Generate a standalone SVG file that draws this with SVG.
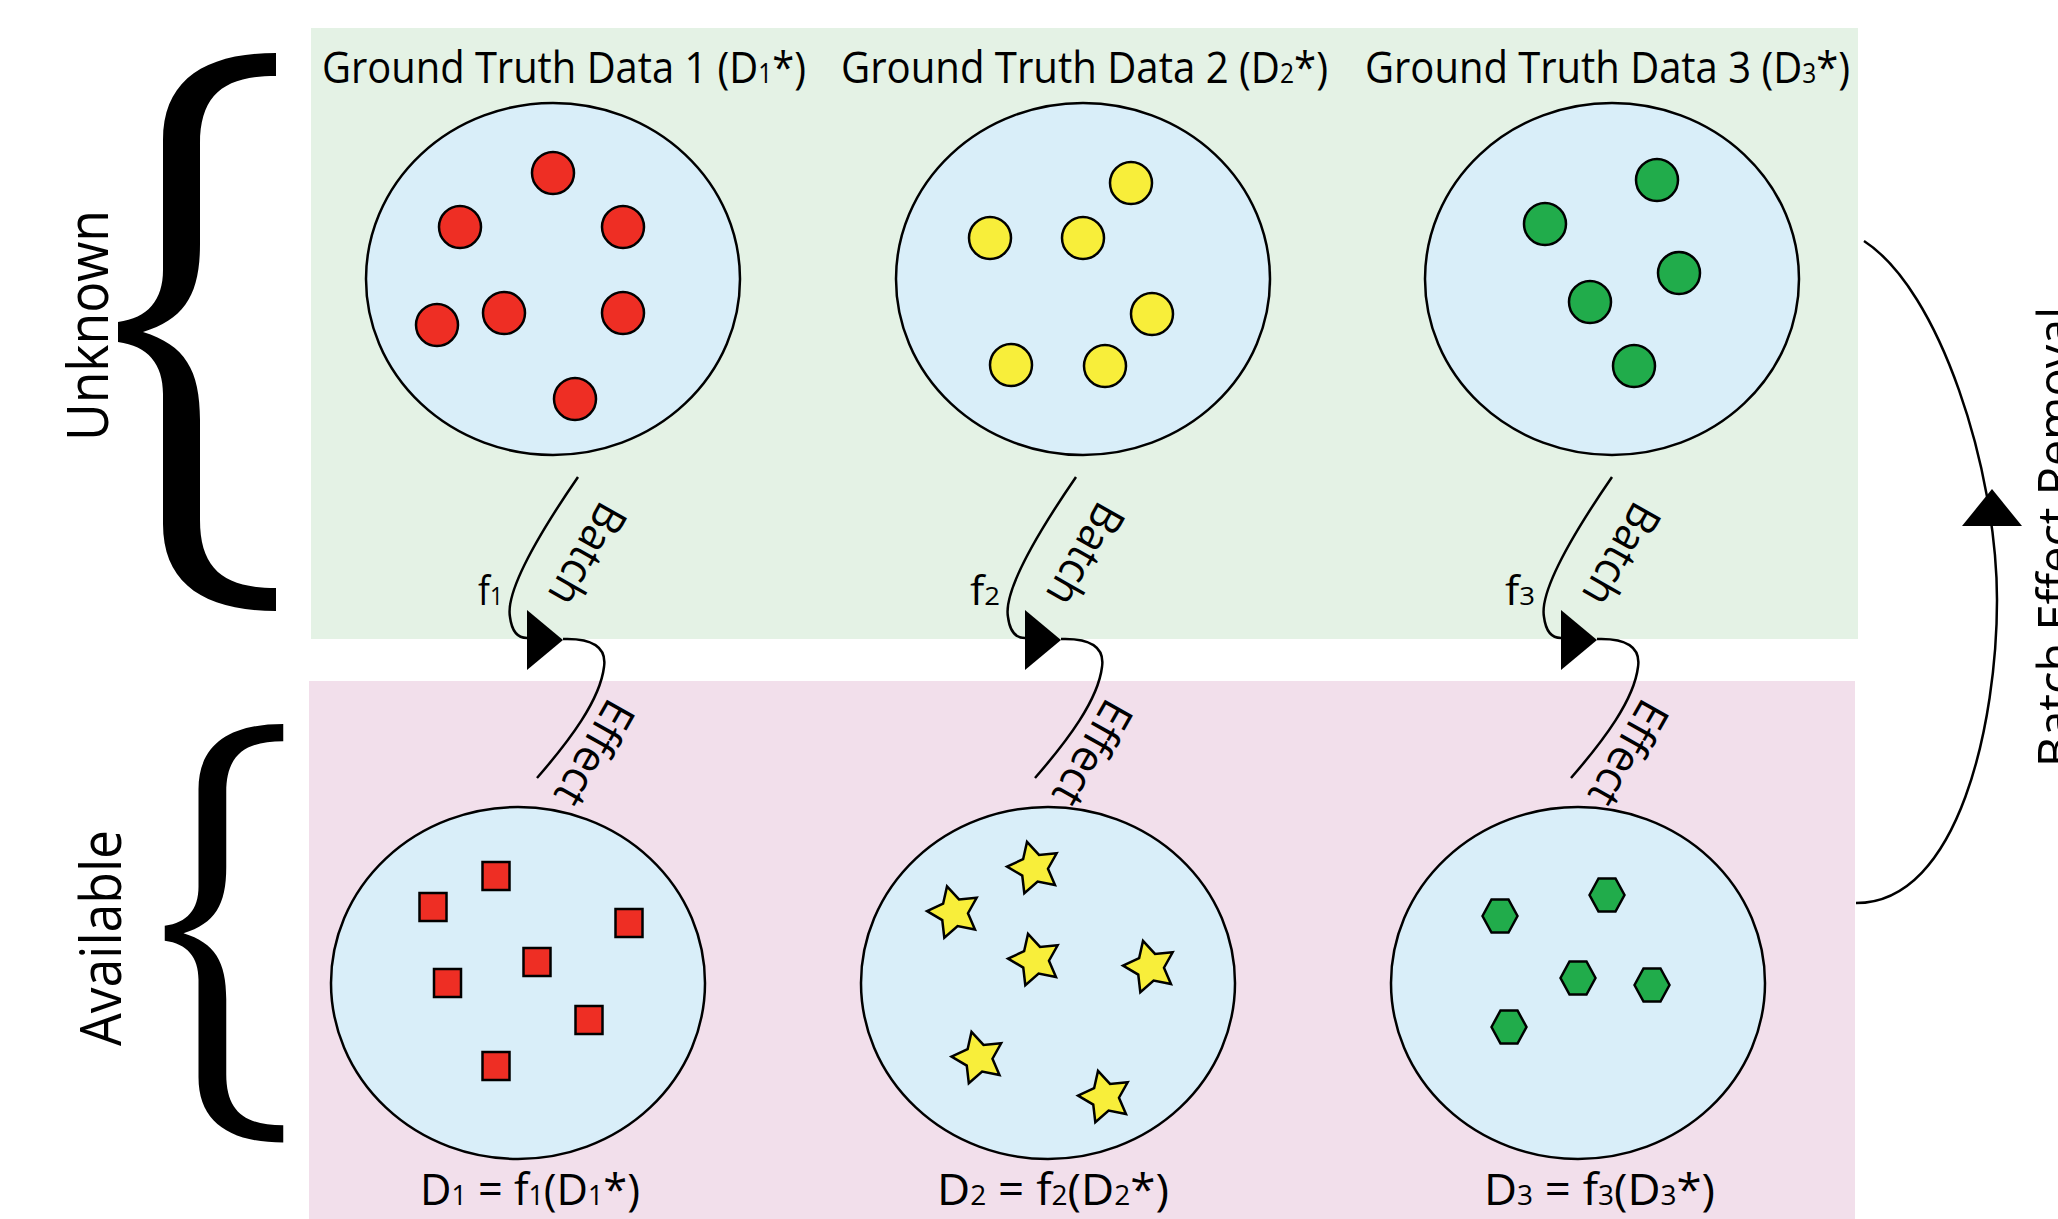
<svg xmlns="http://www.w3.org/2000/svg" width="2058" height="1219" viewBox="0 0 2058 1219">
<style>
.t{font-family:"Open Sans","Liberation Sans",sans-serif;fill:#000}
.ell{fill:#d9eef9;stroke:#000;stroke-width:2.5}
.red{fill:#ee2e24;stroke:#000;stroke-width:2.5}
.yel{fill:#f8ee3a;stroke:#000;stroke-width:2.5;stroke-linejoin:miter}
.grn{fill:#21ac4b;stroke:#000;stroke-width:2.5}
.ln{fill:none;stroke:#000;stroke-width:2.5}
</style>
<defs>
<path id="brace" d="M276,53 C205,53 163,80 163,140 L163,270 C163,300 148,318 118,322 L118,342 C148,346 163,364 163,394 L163,524 C163,584 205,611 276,611 L276,588 C225,588 200,570 200,520 L200,420 C200,370 185,345 143,332 C185,319 200,294 200,244 L200,144 C200,94 225,76 276,76 Z"/>
<polygon id="star" points="-6.99,-26.08 5.02,-13.07 22.64,-14.7 13.98,0.73 20.98,16.99 3.62,13.52 -9.68,25.21 -11.74,7.62 -26.96,-1.41 -10.88,-8.81"/>
<polygon id="hex" points="-17.5,0 -8.5,-16.5 8.5,-16.5 17.5,0 8.5,16.5 -8.5,16.5"/>
<rect id="sq" x="-13.5" y="-14" width="27" height="28"/>
</defs>

<g id="backgrounds">
<rect x="311" y="28" width="1547" height="611" fill="#e4f2e5"/>
<rect x="309" y="681" width="1546" height="538" fill="#f2dfeb"/>
</g>

<g id="brace-unknown">
<use href="#brace"/>
<text class="t" font-size="56" transform="translate(108,441) rotate(-90)" textLength="231" lengthAdjust="spacingAndGlyphs">Unknown</text>
</g>
<g id="brace-available">
<use href="#brace" transform="translate(76.25,684.25) scale(0.75)"/>
<text class="t" font-size="56" transform="translate(121,1046) rotate(-90)" textLength="216" lengthAdjust="spacingAndGlyphs">Available</text>
</g>

<g id="gt1">
<text class="t" x="322" y="83" font-size="44" textLength="484" lengthAdjust="spacingAndGlyphs">Ground Truth Data 1 (D<tspan font-size="27">1</tspan>*)</text>
<ellipse class="ell" cx="553" cy="279" rx="187" ry="176"/>
<circle class="red" cx="553" cy="173" r="21"/>
<circle class="red" cx="460" cy="227" r="21"/>
<circle class="red" cx="623" cy="227" r="21"/>
<circle class="red" cx="437" cy="325" r="21"/>
<circle class="red" cx="504" cy="313" r="21"/>
<circle class="red" cx="623" cy="313" r="21"/>
<circle class="red" cx="575" cy="399" r="21"/>
</g>

<g id="gt2">
<text class="t" x="841" y="83" font-size="44" textLength="487" lengthAdjust="spacingAndGlyphs">Ground Truth Data 2 (D<tspan font-size="27">2</tspan>*)</text>
<ellipse class="ell" cx="1083" cy="279" rx="187" ry="176"/>
<circle class="yel" cx="1131" cy="183" r="21"/>
<circle class="yel" cx="1083" cy="238" r="21"/>
<circle class="yel" cx="990" cy="238" r="21"/>
<circle class="yel" cx="1152" cy="314" r="21"/>
<circle class="yel" cx="1011" cy="365" r="21"/>
<circle class="yel" cx="1105" cy="366" r="21"/>
</g>

<g id="gt3">
<text class="t" x="1365" y="83" font-size="44" textLength="485" lengthAdjust="spacingAndGlyphs">Ground Truth Data 3 (D<tspan font-size="27">3</tspan>*)</text>
<ellipse class="ell" cx="1612" cy="279" rx="187" ry="176"/>
<circle class="grn" cx="1657" cy="180" r="21"/>
<circle class="grn" cx="1545" cy="224" r="21"/>
<circle class="grn" cx="1679" cy="273" r="21"/>
<circle class="grn" cx="1590" cy="302" r="21"/>
<circle class="grn" cx="1634" cy="366" r="21"/>
</g>

<g id="obs1">
<ellipse class="ell" cx="518" cy="983" rx="187" ry="176"/>
<use href="#sq" class="red" x="496" y="876"/>
<use href="#sq" class="red" x="433" y="907"/>
<use href="#sq" class="red" x="629" y="923"/>
<use href="#sq" class="red" x="537" y="962"/>
<use href="#sq" class="red" x="447.5" y="983"/>
<use href="#sq" class="red" x="589" y="1020"/>
<use href="#sq" class="red" x="496" y="1066"/>
<text class="t" x="420" y="1205" font-size="44" textLength="220" lengthAdjust="spacingAndGlyphs">D<tspan font-size="27">1</tspan> = f<tspan font-size="27">1</tspan>(D<tspan font-size="27">1</tspan>*)</text>
</g>

<g id="obs2">
<ellipse class="ell" cx="1048" cy="983" rx="187" ry="176"/>
<use href="#star" class="yel" x="1034" y="868"/>
<use href="#star" class="yel" x="954" y="912.5"/>
<use href="#star" class="yel" x="1035" y="960"/>
<use href="#star" class="yel" x="1150" y="967"/>
<use href="#star" class="yel" x="978.5" y="1058"/>
<use href="#star" class="yel" x="1105" y="1097"/>
<text class="t" x="937" y="1205" font-size="44" textLength="232" lengthAdjust="spacingAndGlyphs">D<tspan font-size="27">2</tspan> = f<tspan font-size="27">2</tspan>(D<tspan font-size="27">2</tspan>*)</text>
</g>

<g id="obs3">
<ellipse class="ell" cx="1578" cy="983" rx="187" ry="176"/>
<use href="#hex" class="grn" x="1607" y="895"/>
<use href="#hex" class="grn" x="1500" y="916"/>
<use href="#hex" class="grn" x="1578" y="978"/>
<use href="#hex" class="grn" x="1652" y="985"/>
<use href="#hex" class="grn" x="1509" y="1027"/>
<text class="t" x="1484" y="1205" font-size="44" textLength="231" lengthAdjust="spacingAndGlyphs">D<tspan font-size="27">3</tspan> = f<tspan font-size="27">3</tspan>(D<tspan font-size="27">3</tspan>*)</text>
</g>

<g id="connectors">
<g id="batch1">
<path class="ln" d="M578,477 C545,525 505,590 510,617 C512,633 519,638 527,638"/>
<path d="M527,610 L563,640 L527,670 Z"/>
<path class="ln" d="M563,639 C592,638 607,647 604,667 C600,700 570,740 537,778"/>
<text class="t" font-size="45" transform="translate(601,499) rotate(119.5)" textLength="110" lengthAdjust="spacingAndGlyphs">Batch</text>
<text class="t" font-size="45" transform="translate(609,696) rotate(119.5)" textLength="114" lengthAdjust="spacingAndGlyphs">Effect</text>
<text class="t" x="478" y="605" font-size="40" textLength="25" lengthAdjust="spacingAndGlyphs">f<tspan font-size="26">1</tspan></text>
</g>
<g id="batch2" transform="translate(498,0)">
<path class="ln" d="M578,477 C545,525 505,590 510,617 C512,633 519,638 527,638"/>
<path d="M527,610 L563,640 L527,670 Z"/>
<path class="ln" d="M563,639 C592,638 607,647 604,667 C600,700 570,740 537,778"/>
<text class="t" font-size="45" transform="translate(601,499) rotate(119.5)" textLength="110" lengthAdjust="spacingAndGlyphs">Batch</text>
<text class="t" font-size="45" transform="translate(609,696) rotate(119.5)" textLength="114" lengthAdjust="spacingAndGlyphs">Effect</text>
<text class="t" x="472" y="605" font-size="40" textLength="30" lengthAdjust="spacingAndGlyphs">f<tspan font-size="26">2</tspan></text>
</g>
<g id="batch3" transform="translate(1034,0)">
<path class="ln" d="M578,477 C545,525 505,590 510,617 C512,633 519,638 527,638"/>
<path d="M527,610 L563,640 L527,670 Z"/>
<path class="ln" d="M563,639 C592,638 607,647 604,667 C600,700 570,740 537,778"/>
<text class="t" font-size="45" transform="translate(601,499) rotate(119.5)" textLength="110" lengthAdjust="spacingAndGlyphs">Batch</text>
<text class="t" font-size="45" transform="translate(609,696) rotate(119.5)" textLength="114" lengthAdjust="spacingAndGlyphs">Effect</text>
<text class="t" x="471" y="605" font-size="40" textLength="30" lengthAdjust="spacingAndGlyphs">f<tspan font-size="26">3</tspan></text>
</g>
<g id="removal">
<path class="ln" d="M1856,903 C1960,903 1997,720 1997,600 C1997,470 1940,290 1864,241"/>
<path d="M1962,526 L2022,526 L1992,489 Z"/>
<text class="t" font-size="50" transform="translate(2073,767) rotate(-90)" textLength="460" lengthAdjust="spacingAndGlyphs">Batch Effect Removal</text>
</g>
</g>
</svg>
